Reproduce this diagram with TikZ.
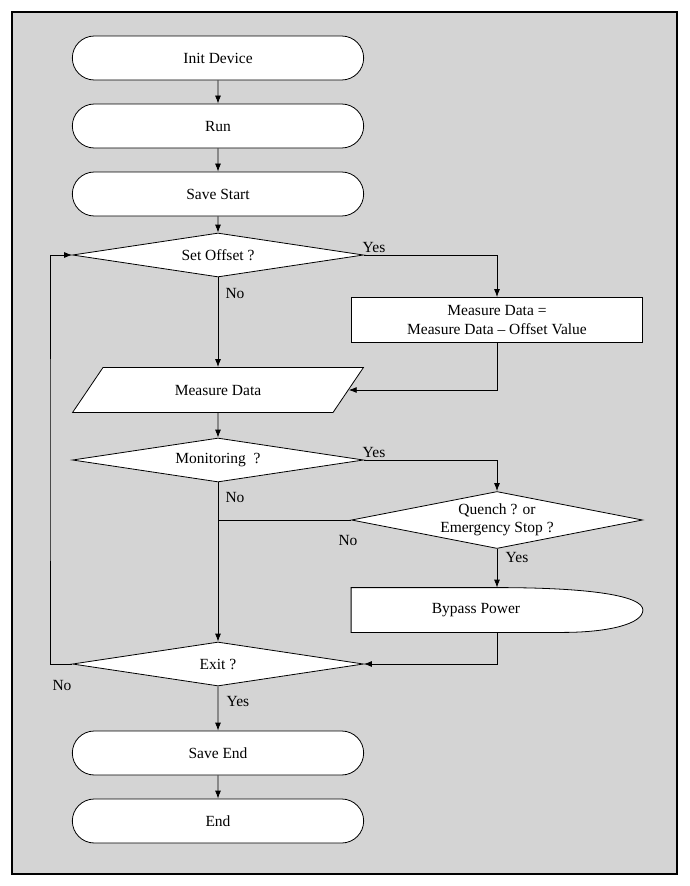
\documentclass[tikz,border=0pt]{standalone}
\usepackage{fontspec}
\setmainfont{Liberation Serif}
\usetikzlibrary{shapes.geometric,shapes.misc,arrows.meta,calc}
\definecolor{dGray}{HTML}{D4D4D4}
\tikzset{
    term/.style={
            rounded rectangle,
            draw,
            fill=white,
            minimum width=298pt, % arcs come out a bit short
            minimum height=44pt % start and end blocks
        },
    decision/.style={
            diamond,
            draw,
            fill=white,
            inner sep=0pt, % size from minimum only
            minimum width=291pt,
            minimum height={#1}
        },
    decision/.default={44pt},
    procbox/.style={
            rectangle,
            draw,
            fill=white,
            align=center,
            minimum width=291pt,
            minimum height=45pt
        },
    iobox/.style={
            trapezium,
            trapezium left angle=54,
            trapezium right angle=126,
            trapezium stretches=true,
            draw,
            fill=white,
            minimum width=291pt,
            minimum height=45pt
        },
    flow/.style={
            -{Latex[length=8pt,width=6pt]}
        },
    answer/.style={
            inner sep=0pt
        }
}

\begin{document}
\begin{tikzpicture}[
        x=1pt,
        y=-1pt,
        line width=.8pt,
        font=\fontsize{15.5}{18.5}\selectfont,
    ]
    \useasboundingbox (0,0) rectangle (689,886);
    \draw[line width=2pt, fill=dGray] (12,12) rectangle (677,874);
    % main column
    \node[term] (init) at (218,58) {Init Device};
    \node[term] (run) at (218,126) {Run};
    \node[term] (savestart) at (218,194) {Save Start};
    \node[decision, label=center:{Set Offset ?}] (offset) at (218,255) {};
    \node[iobox] (measure) at (218,390) {Measure Data};
    \node[decision, label=center:{Monitoring\ \ ?}] (monitor) at (218,460) {};
    \node[decision, label=center:{Exit ?}] (exit) at (218,664) {};
    \node[term] (saveend) at (218,753) {Save End};
    \node[term] (finish) at (218,821) {End};
    % right column
    \node[procbox] (subtract) at (497,320) {Measure Data =\\Measure Data -- Offset Value};
    \node[decision=57pt, label={[align=center]center:Quench ? or\\Emergency Stop ?}] (quench) at (497,520) {};
    \node[minimum width=291pt, minimum height=44pt] (bypass) at (497,610) {};
    \draw[fill=white] (bypass.north west) -- (bypass.north)
    .. controls +(95,0) and +(0,-14) .. (bypass.east)
    .. controls +(0,14) and +(45,0) .. ($(bypass.south)+(66,0)$)
    -- (bypass.south west) -- cycle;
    \node (bypasstext) at ([xshift=-21pt]bypass.center) {Bypass Power};
    \coordinate (back) at (50,460);
    % connectors
    \path[flow]
    (init) edge (run)
    (run) edge (savestart)
    (savestart) edge (offset)
    (offset) edge (measure)
    (measure) edge (monitor)
    (monitor) edge (exit)
    (exit) edge (saveend)
    (saveend) edge (finish)
    (quench) edge (bypass);
    \draw[flow] (offset.east) -| (subtract.north);
    \draw[flow] (subtract.south) |- (measure.east);
    \draw[flow] (monitor.east) -| (quench.north);
    \draw (quench.west) -- (quench.west -| monitor.south);
    \draw[flow] (bypass.south) |- (exit.east);
    \draw[flow] (exit.west) -| (back) |- (offset.west);
    % yes and no
    \node[answer] (offyes) at (374,247) {Yes};
    \node[answer] (offno) at (235,293) {No};
    \node[answer] (monyes) at (374,452) {Yes};
    \node[answer] (monno) at (235,497) {No};
    \node[answer] (quenchno) at (348,540) {No};
    \node[answer] (quenchyes) at (517,557) {Yes};
    \node[answer] (exitno) at (62,685) {No};
    \node[answer] (exityes) at (238,701) {Yes};
\end{tikzpicture}
\end{document}
